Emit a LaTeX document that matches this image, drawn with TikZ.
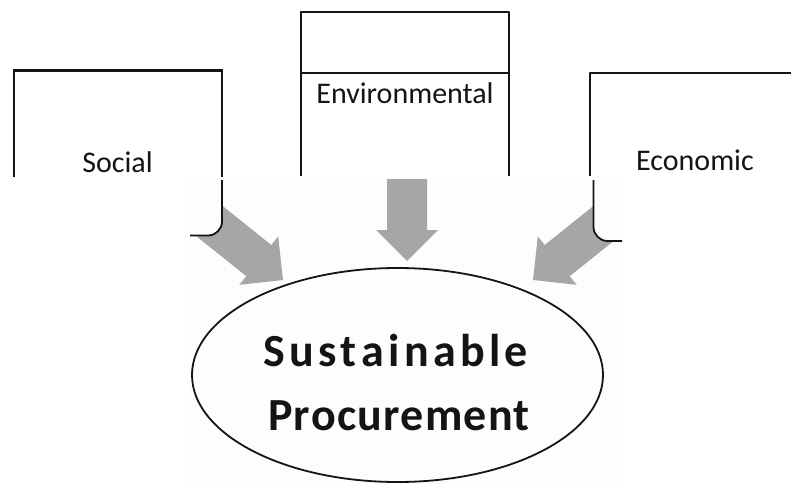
\documentclass[tikz,border=0pt]{standalone}
\usepackage{fontspec}
\setmainfont{Carlito}
\usetikzlibrary{shapes.geometric}
\definecolor{arrowgray}{RGB}{166,166,166}
\definecolor{pastebg}{RGB}{253,253,253}
\definecolor{ink}{RGB}{20,20,20}
\begin{document}
\begin{tikzpicture}[x=1pt,y=-1pt,line join=round,
  boxline/.style={draw=ink,line width=1.8pt},
  blockarrow/.style={fill=arrowgray,draw=none},
  lbl/.style={font=\fontsize{30}{36}\selectfont,text=ink,anchor=base,inner sep=0pt},
  big/.style={font=\bfseries\fontsize{46}{52}\selectfont,text=ink,anchor=base,inner sep=0pt}]
\useasboundingbox (0,0) rectangle (791,484);
\fill[white] (0,0) rectangle (791,484);
% pasted lower region
\fill[pastebg] (190,177) rectangle (622,484);
% block arrows
\fill[blockarrow] (195.6,235.6) -- (220.6,204.4) -- (271.3,245) -- (278.2,236.4) -- (283,280) -- (239.4,284.8) -- (246.3,276.2) -- cycle;
\fill[blockarrow] (387,179) -- (427,179) -- (427,230) -- (438,230) -- (407,261) -- (376,230) -- (387,230) -- cycle;
\fill[blockarrow] (620.4,235.6) -- (595.4,204.4) -- (544.7,245) -- (537.8,236.4) -- (533,280) -- (576.6,284.8) -- (569.7,276.2) -- cycle;
% box corners covering arrow tails
\fill[pastebg] (190,177) -- (222,177) -- (222,221.5) .. controls (222,229.2) and (215.7,235.5) .. (208,235.5) -- (190,235.5) -- cycle;
\fill[pastebg] (593.5,177) -- (622,177) -- (622,241) -- (607.5,241) .. controls (599.8,241) and (593.5,234.7) .. (593.5,227) -- cycle;
\draw[boxline] (222,180) -- (222,221.5) .. controls (222,229.2) and (215.7,235.5) .. (208,235.5) -- (190,235.5);
\draw[boxline] (593.5,180) -- (593.5,227) .. controls (593.5,234.7) and (599.8,241) .. (607.5,241) -- (622,241);
% upper parts of boxes
\draw[boxline] (14,177) -- (14,70) -- (222,70) -- (222,177);
\draw[ink,line width=3pt] (13.1,70.5) -- (222.9,70.5);
\draw[boxline] (301,176) -- (301,12) -- (509,12) -- (509,176);
\draw[boxline] (301,73) -- (509,73);
\draw[boxline] (590,176) -- (590,73) -- (795,73);
% labels
\node[lbl] (social) at (117.5,172) {Social};
\node[lbl] (env) at (405,103) {Environmental};
\node[lbl] (econ) at (695,170) {Economic};
% ellipse
\node[draw=ink,line width=1.8pt,ellipse,minimum width=411pt,minimum height=214pt,inner sep=0pt] (sp) at (397.5,375) {};
\node[big] (sus) at (395.5,366) {\makebox[265pt]{S\hfill u\hfill s\hfill t\hfill a\hfill i\hfill n\hfill a\hfill b\hfill l\hfill e}};
\node[big] (proc) at (399,430) {\makebox[262pt]{P\hfill r\hfill o\hfill c\hfill u\hfill r\hfill e\hfill m\hfill e\hfill n\hfill t}};
\end{tikzpicture}
\end{document}
